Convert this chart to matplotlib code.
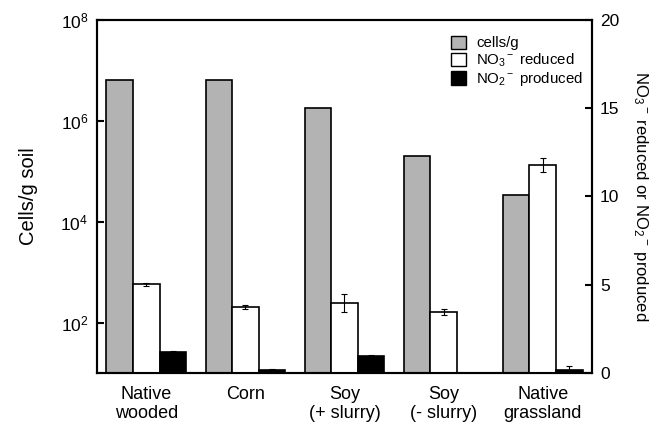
import matplotlib
matplotlib.use("Agg")
import matplotlib.pyplot as plt
import numpy as np
from matplotlib.ticker import FixedLocator, NullLocator, FixedFormatter
from matplotlib.patches import Patch

plt.rcParams['font.family'] = ['Liberation Sans', 'DejaVu Sans']
plt.rcParams['mathtext.fontset'] = 'custom'
plt.rcParams['mathtext.rm'] = 'Liberation Sans'
plt.rcParams['mathtext.it'] = 'Liberation Sans:italic'
plt.rcParams['mathtext.bf'] = 'Liberation Sans:bold'

categories = ["Native\nwooded", "Corn", "Soy\n(+ slurry)", "Soy\n(- slurry)", "Native\ngrassland"]
cells_per_g = [6.4e6, 6.4e6, 1.77e6, 2.02e5, 3.3e4]
no3_reduced = [5.03, 3.76, 3.99, 3.45, 11.78]
no3_err = [0.1, 0.1, 0.5, 0.17, 0.4]
no2_produced = [1.20, 0.19, 0.98, 0.0, 0.19]
no2_err = [0.06, 0.04, 0.03, 0.0, 0.2]
left_ticks = [1e2, 1e4, 1e6, 1e8]
left_ticklabels = ["10$^2$", "10$^4$", "10$^6$", "10$^8$"]
right_ticks = [0, 5, 10, 15, 20]

fig = plt.figure(figsize=(6.55, 4.24), dpi=100)
ax = fig.add_axes([0.1476, 0.1196, 0.7567, 0.8344])
ax2 = ax.twinx()

x = np.arange(len(categories))
w = 0.268

ax.bar(x - w, cells_per_g, width=w, bottom=10, color='#b3b3b3', edgecolor='black', linewidth=1.2, zorder=2)
ax.set_yscale('log')
ax.set_ylim(10, 1e8)
ax.set_xlim(-0.5, len(categories) - 0.5)
ax.yaxis.set_major_locator(FixedLocator(left_ticks))
ax.yaxis.set_major_formatter(FixedFormatter(left_ticklabels))
ax.yaxis.set_minor_locator(NullLocator())
ax.set_xticks(x)
ax.set_xticklabels(categories, fontsize=13, linespacing=1.2)
ax.tick_params(axis='x', length=0, pad=9)
ax.tick_params(axis='y', direction='in', length=5, width=1.5, labelsize=12.5, pad=6)
ax.set_ylabel("Cells/g soil", fontsize=14.5, labelpad=16)

ax2.bar(x, no3_reduced, width=w, yerr=no3_err, color='white', edgecolor='black', linewidth=1.2,
        error_kw=dict(ecolor='black', elinewidth=0.8, capsize=2.5, capthick=0.8))
ax2.bar(x + w, no2_produced, width=w, yerr=no2_err, color='black', edgecolor='black', linewidth=1.2,
        error_kw=dict(ecolor='black', elinewidth=0.8, capsize=2.5, capthick=0.8))
ax2.set_ylim(0, 20)
ax2.set_yticks(right_ticks)
ax2.tick_params(axis='y', direction='in', length=5, width=1.5, labelsize=12.5, pad=5.5)
ax2.set_ylabel("NO$_3$$^-$ reduced or NO$_2$$^-$ produced", fontsize=12, rotation=270, labelpad=22)

for a in (ax, ax2):
    for s in a.spines.values():
        s.set_linewidth(1.5)

handles = [Patch(facecolor='#b3b3b3', edgecolor='black', label='cells/g'),
           Patch(facecolor='white', edgecolor='black', label='NO$_3$$^-$ reduced'),
           Patch(facecolor='black', edgecolor='black', label='NO$_2$$^-$ produced')]
ax2.legend(handles=handles, loc='upper right', bbox_to_anchor=(1.0, 0.98), frameon=False,
           fontsize=10.8, handlelength=1.0, handleheight=1.0, handletextpad=0.7, labelspacing=0.08,
           borderaxespad=0.2)

fig.savefig("out.png", dpi=100)
